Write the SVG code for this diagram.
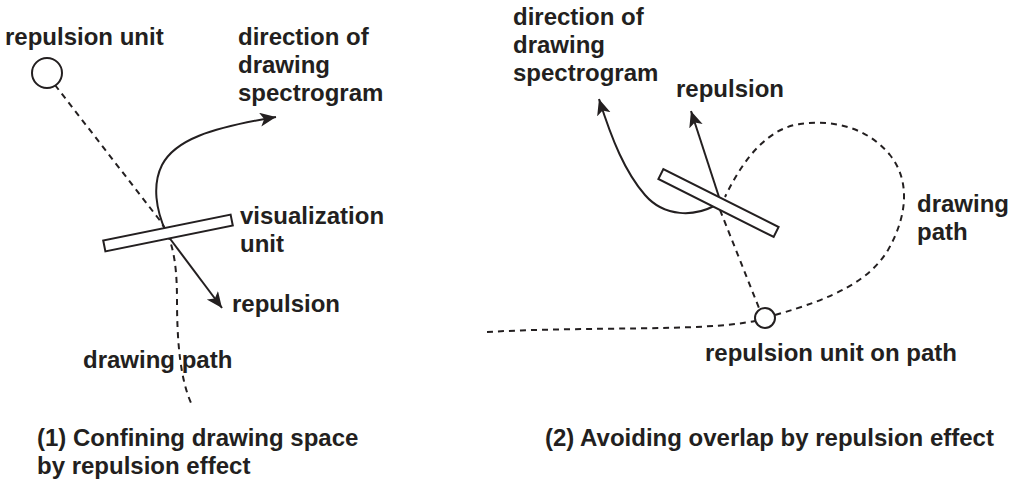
<svg xmlns="http://www.w3.org/2000/svg" width="1014" height="486" viewBox="0 0 1014 486">
<style>
text{font-family:"Liberation Sans",Arial,sans-serif;font-weight:bold;font-size:24px;fill:#231f20}
.ln{fill:none;stroke:#231f20;stroke-width:2}
.dash{fill:none;stroke:#231f20;stroke-width:2;stroke-dasharray:6 5}
.shape{fill:#fff;stroke:#231f20;stroke-width:2}
</style>
<defs>
<marker id="arr" markerUnits="userSpaceOnUse" markerWidth="18" markerHeight="16" refX="16" refY="7" orient="auto" viewBox="0 0 18 16">
<path d="M0,0 L16,7 L0,14 L4,7 Z" fill="#231f20"/>
</marker>
</defs>
<g id="connectors">
<path class="dash" d="M55,85 L158,218 C172,236 177,260 177,300 C177,340 180,380 192,405"/>
<path class="ln" d="M166,232 C156,210 152,185 162,165 C175,140 210,128 276,117" marker-end="url(#arr)"/>
<path class="ln" d="M168,236 L222,308" marker-end="url(#arr)"/>
<path class="dash" d="M487,332 C590,326 700,332 755,321"/>
<path class="dash" d="M775,315 C835,298 870,280 888,250 C908,215 910,180 890,155 C865,125 830,120 800,124 C770,128 745,155 725,197"/>
<path class="dash" d="M720,210 L759,308"/>
<path class="ln" d="M714,206 C695,216 665,218 645,195 C625,172 612,140 599,99" marker-end="url(#arr)"/>
<path class="ln" d="M719,197 L691,111" marker-end="url(#arr)"/>
</g>
<g id="repulsion-unit-1">
<circle class="shape" cx="47" cy="73" r="15"/>
<text x="5" y="45">repulsion unit</text>
</g>
<g id="visualization-unit-1">
<rect class="shape" x="-65" y="-5.5" width="130" height="11" transform="translate(168,233) rotate(-11.5)"/>
<text x="240" y="224">visualization</text>
<text x="240" y="252">unit</text>
</g>
<g id="labels-1">
<text x="238" y="45">direction of</text>
<text x="238" y="73">drawing</text>
<text x="238" y="101">spectrogram</text>
<text x="232" y="312">repulsion</text>
<text x="83" y="368">drawing path</text>
<text x="37" y="446">(1) Confining drawing space</text>
<text x="37" y="474">by repulsion effect</text>
</g>
<g id="visualization-unit-2">
<rect class="shape" x="-64.5" y="-5.5" width="129" height="11" transform="translate(718.5,203) rotate(26.7)"/>
</g>
<g id="repulsion-unit-2">
<circle class="shape" cx="765" cy="318" r="10"/>
<text x="705" y="361">repulsion unit on path</text>
</g>
<g id="labels-2">
<text x="513" y="25">direction of</text>
<text x="513" y="53">drawing</text>
<text x="513" y="81">spectrogram</text>
<text x="676" y="97">repulsion</text>
<text x="917" y="212">drawing</text>
<text x="917" y="240">path</text>
<text x="545" y="446">(2) Avoiding overlap by repulsion effect</text>
</g>
</svg>
